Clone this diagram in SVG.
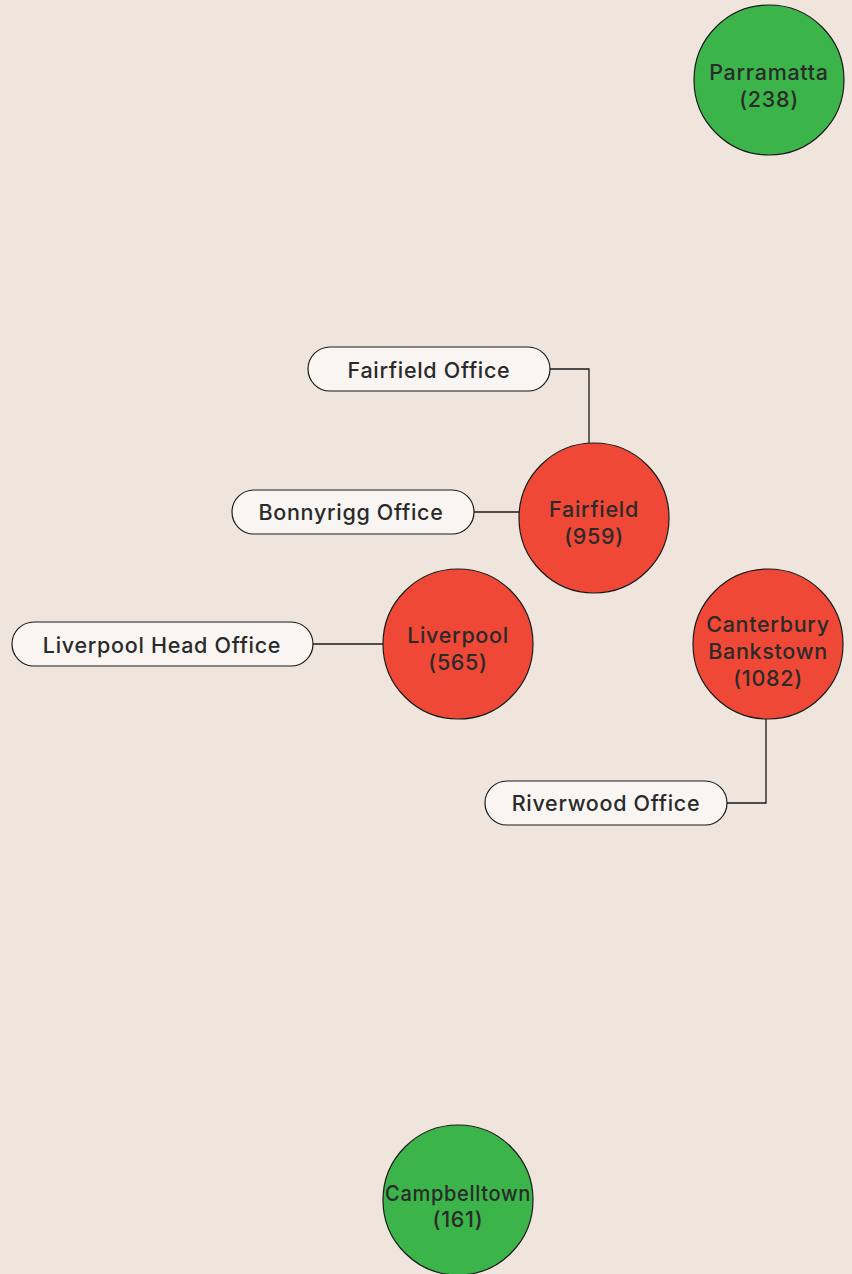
<svg xmlns="http://www.w3.org/2000/svg" width="852" height="1274" viewBox="0 0 852 1274">
  <style>
    .bg { fill: #efe5dd; }
    .hub { stroke: #1a1a1a; stroke-width: 1.2; }
    .good { fill: #3bb54a; }
    .bad { fill: #ef4836; }
    .office { fill: #f9f5f2; stroke: #1a1a1a; stroke-width: 1.2; }
    .link { fill: none; stroke: #1a1a1a; stroke-width: 1.3; }
    text { font-family: Inter, "Liberation Sans", sans-serif; font-size: 21.5px; font-weight: 500; letter-spacing: 0.7px; fill: #2a2a2a; text-anchor: middle; }
  </style>
  <rect class="bg" x="0" y="0" width="852" height="1274"/>

  <g id="connectors">
    <polyline class="link" points="550,369 589,369 589,443"/>
    <line class="link" x1="474" y1="512" x2="519" y2="512"/>
    <line class="link" x1="313" y1="644" x2="383" y2="644"/>
    <polyline class="link" points="727,803 766,803 766,719"/>
  </g>

  <g id="parramatta">
    <circle class="hub good" cx="769" cy="80" r="75"/>
    <text x="769" y="80">Parramatta</text>
    <text x="769" y="107">(238)</text>
  </g>

  <g id="fairfield-office">
    <rect class="office" x="308" y="347" width="242" height="44" rx="22"/>
    <text x="429" y="378">Fairfield Office</text>
  </g>

  <g id="bonnyrigg-office">
    <rect class="office" x="232" y="490" width="242" height="44" rx="22"/>
    <text x="351" y="520">Bonnyrigg Office</text>
  </g>

  <g id="fairfield">
    <circle class="hub bad" cx="594" cy="518" r="75"/>
    <text x="594" y="517">Fairfield</text>
    <text x="594" y="544">(959)</text>
  </g>

  <g id="liverpool-head-office">
    <rect class="office" x="12" y="622" width="301" height="44" rx="22"/>
    <text x="162" y="653">Liverpool Head Office</text>
  </g>

  <g id="liverpool">
    <circle class="hub bad" cx="458" cy="644" r="75"/>
    <text x="458" y="643">Liverpool</text>
    <text x="458" y="670">(565)</text>
  </g>

  <g id="canterbury-bankstown">
    <circle class="hub bad" cx="768" cy="644" r="75"/>
    <text x="768" y="632">Canterbury</text>
    <text x="768" y="659">Bankstown</text>
    <text x="768" y="686">(1082)</text>
  </g>

  <g id="riverwood-office">
    <rect class="office" x="485" y="781" width="242" height="44" rx="22"/>
    <text x="606" y="811">Riverwood Office</text>
  </g>

  <g id="campbelltown">
    <circle class="hub good" cx="458" cy="1200" r="75"/>
    <text x="458" y="1201" letter-spacing="0" textLength="146" lengthAdjust="spacingAndGlyphs">Campbelltown</text>
    <text x="458" y="1227">(161)</text>
  </g>
</svg>
